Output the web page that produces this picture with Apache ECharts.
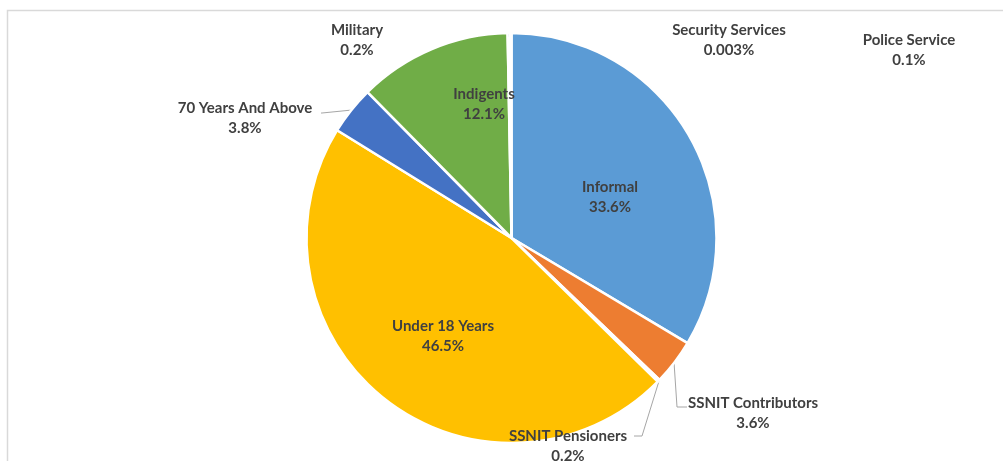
<!DOCTYPE html>
<html>
<head>
<meta charset="utf-8">
<script src="https://cdn.jsdelivr.net/npm/echarts@6/dist/echarts.min.js"></script>
<style>
html,body{margin:0;padding:0;background:#fff;}
#chart{width:1003px;height:461px;}
</style>
</head>
<body>
<div id="chart"></div>
<script>
const categories = ['Informal','SSNIT Contributors','SSNIT Pensioners','Under 18 Years','70 Years And Above','Indigents','Military','Security Services','Police Service'];
const values = [33.6, 3.6, 0.2, 46.5, 3.8, 12.1, 0.2, 0.003, 0.1];
const colors = ['#5B9BD5','#ED7D31','#A5A5A5','#FFC000','#4472C4','#70AD47','#255E91','#9E480E','#636363'];

// label placement (layout only)
const labelPos = {
  0: {x: 610, y: 197},
  1: {x: 753, y: 413, line: [[674,362],[677,407],[687,407]]},
  2: {x: 568, y: 446, line: [[659,381],[642,436],[634,436]]},
  3: {x: 443, y: 336},
  4: {x: 245, y: 118, line: [[352,110],[322,113],[321,113]]},
  5: {x: 484, y: 104},
  6: {x: 357, y: 40},
  7: {x: 729, y: 40},
  8: {x: 909, y: 50}
};

const chart = echarts.init(document.getElementById('chart'), null, {renderer: 'canvas'});
chart.setOption({
  backgroundColor: '#ffffff',
  animation: false,
  graphic: [{
    type: 'rect', silent: true,
    shape: {x: 7.5, y: 10.5, width: 1100, height: 500},
    style: {fill: 'none', stroke: '#d9d9d9', lineWidth: 1.5}
  }],
  series: [{
    type: 'pie',
    center: [511.5, 238],
    radius: [0, 205],
    startAngle: 90,
    clockwise: true,
    avoidLabelOverlap: false,
    itemStyle: {borderColor: '#ffffff', borderWidth: 2.5},
    label: {
      show: true,
      position: 'outside',
      formatter: p => p.name + '\n' + p.value + '%',
      fontFamily: 'Lato',
      fontWeight: 'bold',
      fontSize: 15,
      lineHeight: 20,
      color: '#404040',
      align: 'center'
    },
    labelLine: {show: true, lineStyle: {color: '#a6a6a6', width: 1}},
    labelLayout: function (params) {
      const p = labelPos[params.dataIndex];
      const res = {x: p.x, y: p.y, align: 'center', verticalAlign: 'middle'};
      if (p.line) res.labelLinePoints = p.line;
      return res;
    },
    data: categories.map((c, i) => ({
      name: c,
      value: values[i],
      itemStyle: {color: colors[i]},
      labelLine: {show: !!labelPos[i].line}
    }))
  }]
});
</script>
</body>
</html>
